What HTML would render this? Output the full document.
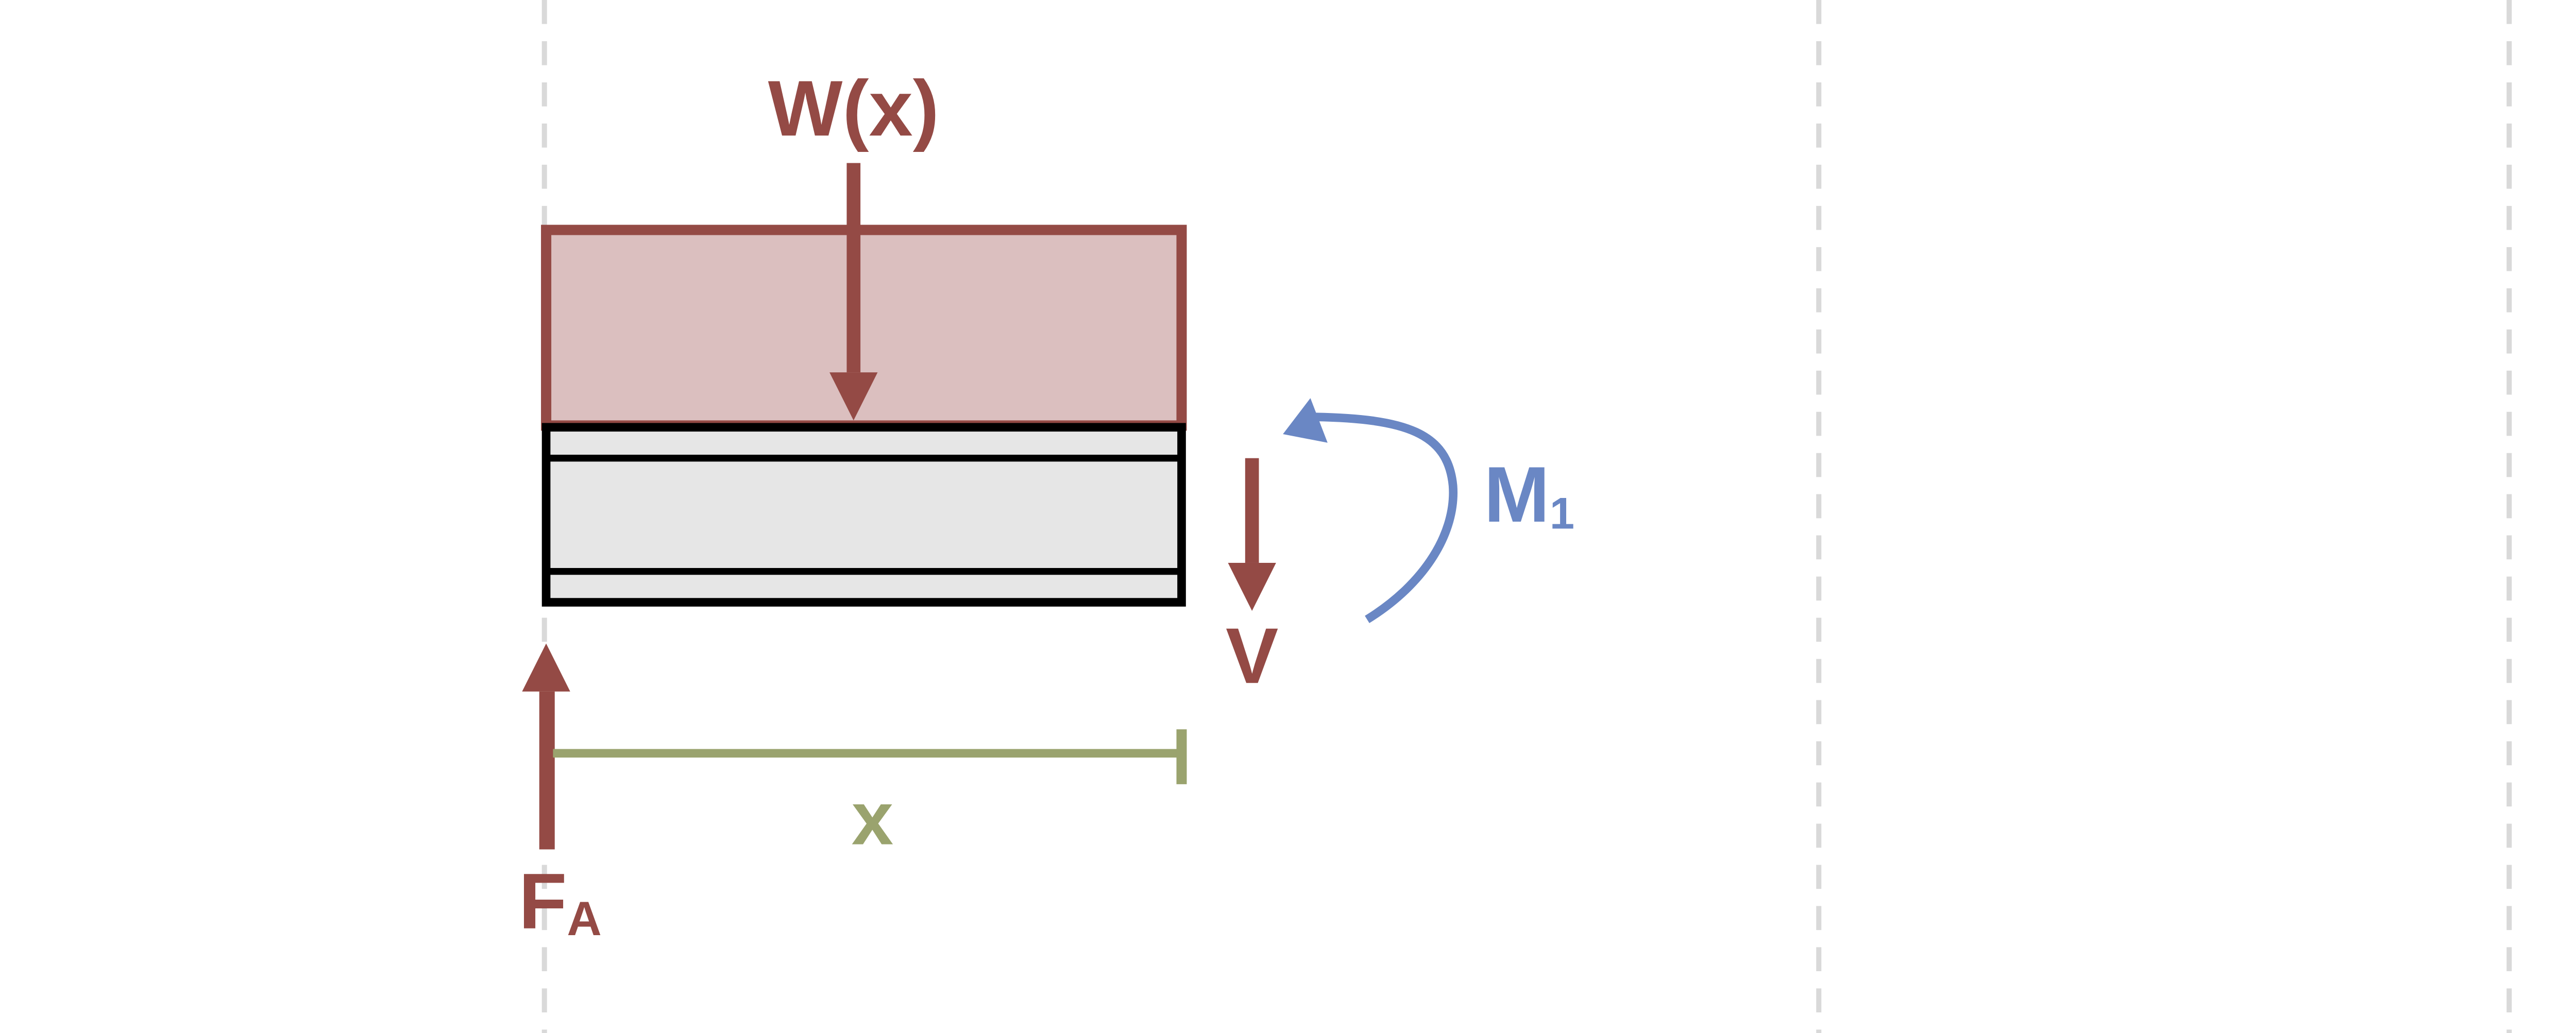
<!DOCTYPE html>
<html><head><meta charset="utf-8"><style>
html,body{margin:0;padding:0;background:#fff;}
svg{display:block;}
text{font-family:"Liberation Sans",sans-serif;font-weight:bold;}
</style></head><body>
<svg width="5227" height="2006" viewBox="0 0 1568 602" preserveAspectRatio="none">
<g stroke="#d9d9d9" stroke-width="3" stroke-dasharray="14,10">
<line x1="317" y1="0" x2="317" y2="602"/>
<line x1="1059" y1="0" x2="1059" y2="602"/>
<line x1="1461" y1="0" x2="1461" y2="602"/>
</g>
<rect x="318" y="134" width="370" height="114" fill="#dbbfbf" stroke="#944a45" stroke-width="6"/>
<rect x="318" y="249" width="370" height="102" fill="#e6e6e6" stroke="#000" stroke-width="5"/>
<line x1="318" y1="267" x2="688" y2="267" stroke="#000" stroke-width="4"/>
<line x1="318" y1="333" x2="688" y2="333" stroke="#000" stroke-width="4"/>
<g>
<rect x="493" y="95" width="8" height="122" fill="#944a45"/>
<polygon points="483,217 511,217 497,245" fill="#944a45"/>
</g>
<text x="497" y="79" font-size="46" fill="#944a45" text-anchor="middle">W(x)</text>
<g>
<rect x="725" y="267" width="8" height="61" fill="#944a45"/>
<polygon points="715,328 743,328 729,356" fill="#944a45"/>
</g>
<text x="729" y="398" font-size="46" fill="#944a45" text-anchor="middle">V</text>
<g>
<path d="M796,361 C830,340 848,310 846,283 C843,252 818,244 766,243" fill="none" stroke="#6a87c4" stroke-width="5"/>
<polygon points="747,253 763,232 773,258" fill="#6a87c4"/>
</g>
<text x="864" y="304" font-size="46" fill="#6a87c4">M<tspan font-size="26" dy="4">1</tspan></text>
<g>
<rect x="314" y="403" width="9" height="92" fill="#944a45"/>
<polygon points="304,403 332,403 318,375" fill="#944a45"/>
</g>
<text x="302" y="541" font-size="46" fill="#944a45">F<tspan font-size="28" dy="4">A</tspan></text>
<g>
<line x1="322" y1="439" x2="688" y2="439" stroke="#9aa36e" stroke-width="5"/>
<line x1="688" y1="425" x2="688" y2="457" stroke="#9aa36e" stroke-width="6"/>
</g>
<text x="508" y="492" font-size="44" fill="#9aa36e" text-anchor="middle">x</text>
</svg>
</body></html>
